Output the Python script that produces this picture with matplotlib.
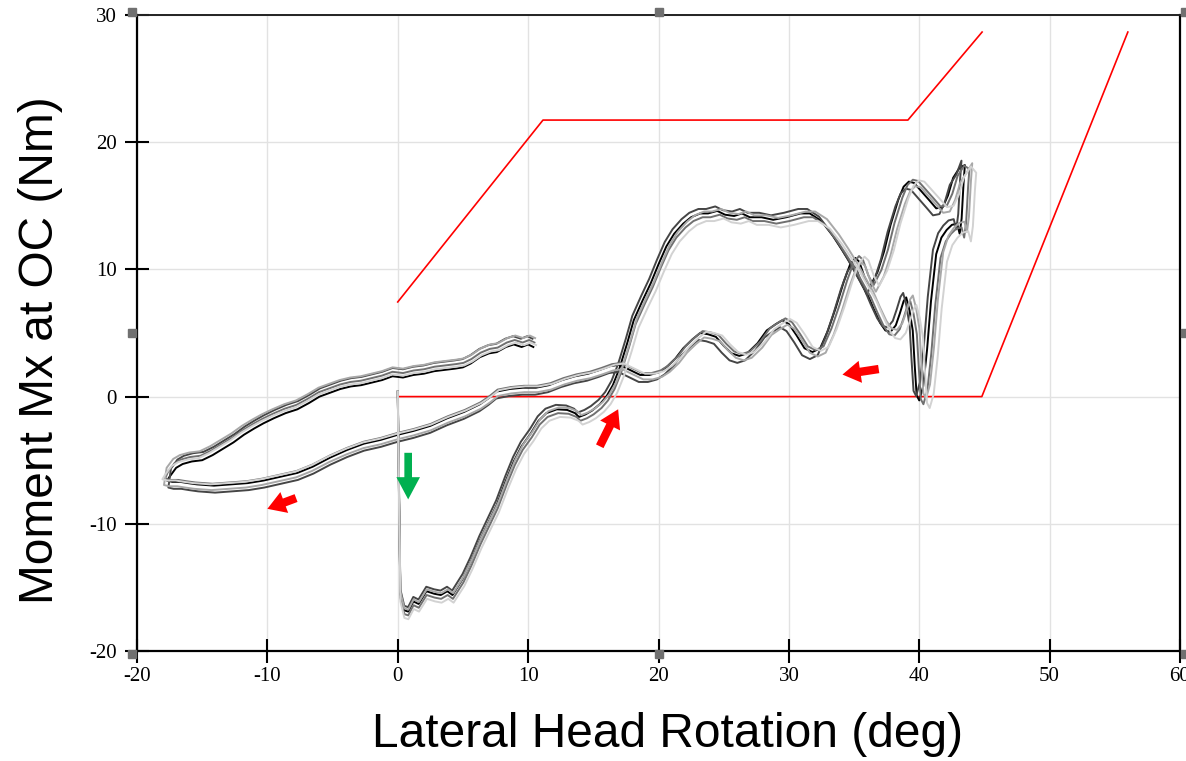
import matplotlib
matplotlib.use("Agg")
import matplotlib.pyplot as plt
from matplotlib.patches import FancyArrowPatch
import numpy as np

# ---------------- data ----------------
# base trajectory of Mx (Nm) vs lateral head rotation (deg)
load1_x = [0, 0.1, 0.2, 0.5, 0.8, 1.2, 1.6, 2.2, 2.8, 3.3, 3.8, 4.2, 5.0, 5.6, 6.3, 7.0,
           7.6, 8.3, 8.9, 9.5, 10.2, 10.8, 11.4, 12.2, 13.0, 13.6, 13.9, 14.4, 14.9, 15.5,
           16.0, 16.5, 17.0, 17.6, 18.1, 18.8, 19.4, 20.0, 20.6, 21.2, 21.9, 22.5, 23.2,
           23.8, 24.5, 25.1, 25.8, 26.4, 27.0, 27.9, 28.8, 29.8, 30.9, 31.6, 32.5, 33.4,
           34.1, 34.7, 35.4, 36.0, 36.5, 37.0, 37.4, 37.8, 38.2, 38.5, 38.8, 39.0, 39.25,
           39.5, 39.65, 39.8, 40.0, 40.3, 40.6, 40.9, 41.3, 41.7, 42.1, 42.5, 42.9, 43.1,
           43.25, 43.4, 43.5]
load1_y = [0.4, -8.0, -15.5, -16.8, -16.9, -16.1, -16.3, -15.3, -15.5, -15.6, -15.3, -15.6,
           -14.3, -13.0, -11.3, -9.8, -8.5, -6.6, -5.1, -3.9, -2.9, -1.9, -1.3, -1.0, -1.05,
           -1.3, -1.6, -1.4, -1.1, -0.6, 0.0, 0.9, 2.2, 4.2, 6.0, 7.6, 8.9, 10.4, 11.8,
           12.8, 13.6, 14.1, 14.4, 14.4, 14.6, 14.3, 14.2, 14.4, 14.1, 14.1, 13.9, 14.1,
           14.4, 14.4, 13.8, 12.6, 11.5, 10.5, 9.2, 8.1, 6.9, 5.8, 5.2, 5.1, 5.6, 6.5, 7.5,
           7.8, 6.8, 5.2, 2.5, 0.1, -0.3, 0.8, 3.7, 7.5, 11.2, 12.5, 13.1, 13.5, 13.6, 12.8,
           14.0, 16.8, 18.2]

unload_x = [43.1, 42.6, 42.2, 41.8, 41.3, 40.8, 40.2, 39.6, 39.2, 38.8, 38.4, 37.8, 37.3,
            36.8, 36.2, 35.8, 35.4, 35.1, 34.7, 34.2, 33.6, 33.0, 32.4, 31.8, 31.2, 30.6,
            30.0, 29.5, 29.0, 28.3, 27.6, 26.8, 26.2, 25.6, 25.0, 24.4, 23.8, 23.2, 22.6,
            21.9, 21.3, 20.6, 20.0, 19.3, 18.6, 17.8, 17.0, 16.3, 15.5, 14.6, 13.6, 12.6,
            11.6, 10.6, 9.6, 8.6, 7.6, 7.0, 6.3, 5.1, 3.8, 2.5, 1.2, 0.0, -1.3, -2.6, -3.9,
            -5.2, -6.5, -7.7, -9.0, -10.3, -11.5, -12.8, -14.1, -15.4, -16.1, -16.7, -17.3,
            -17.7]
unload_y = [17.8, 17.0, 15.6, 14.7, 14.6, 15.2, 15.9, 16.6, 16.7, 16.3, 15.3, 13.3, 11.2,
            9.6, 8.4, 9.2, 10.4, 10.7, 10.2, 8.8, 6.8, 5.0, 3.6, 3.3, 3.6, 4.6, 5.5, 5.8,
            5.5, 5.0, 4.0, 3.2, 3.0, 3.2, 3.8, 4.5, 4.7, 4.8, 4.3, 3.6, 2.8, 2.1, 1.7, 1.5,
            1.5, 1.9, 2.3, 2.2, 1.9, 1.6, 1.4, 1.1, 0.7, 0.5, 0.5, 0.4, 0.2, -0.3, -0.8,
            -1.4, -1.9, -2.5, -2.9, -3.2, -3.6, -3.9, -4.4, -5.0, -5.7, -6.2, -6.5, -6.8,
            -7.0, -7.1, -7.2, -7.1, -7.0, -6.9, -6.9, -6.8]

load2_x = [-17.5, -17.0, -16.5, -15.8, -15.0, -14.2, -13.4, -12.6, -11.8, -11.0, -10.3,
           -9.5, -8.6, -7.7, -6.8, -6.0, -5.2, -4.4, -3.6, -2.8, -2.0, -1.2, -0.4, 0.4,
           1.2, 2.0, 2.8, 3.6, 4.4, 5.0, 5.6, 6.3, 7.0, 7.6, 8.3, 8.9, 9.5, 10.0, 10.4]
load2_y = [-6.0, -5.3, -5.0, -4.8, -4.7, -4.3, -3.8, -3.3, -2.7, -2.2, -1.8, -1.4, -1.0,
           -0.7, -0.2, 0.3, 0.6, 0.9, 1.1, 1.2, 1.4, 1.6, 1.9, 1.8, 2.0, 2.1, 2.3, 2.4,
           2.5, 2.6, 2.9, 3.4, 3.7, 3.8, 4.2, 4.4, 4.2, 4.4, 4.2]

# trial-to-trial differences read from the bundle spread
trial_colors = ["#000000", "#454545", "#707070", "#a8a8a8", "#d2d2d2"]
trial_xscale = [1.000, 0.994, 1.008, 1.013, 1.020]
shift_load1 = [0.0, 0.35, -0.3, 0.15, -0.6]
shift_unload = [0.2, -0.35, 0.35, -0.15, 0.3]
shift_load2 = [-0.3, 0.35, 0.05, 0.4, -0.15]

# red reference profile lines
ref1_x = [0.0, 11.14, 39.13, 44.82]
ref1_y = [7.44, 21.74, 21.74, 28.66]
ref2_x = [0.0, 44.8, 56.0]
ref2_y = [0.0, 0.0, 28.66]

# arrows: (tail_x, tail_y, tip_x, tip_y)
red_arrows = [(-7.6, -7.9, -10.2, -8.9),
              (15.4, -4.1, 17.0, -0.8),
              (37.1, 2.2, 33.9, 1.7)]
green_arrow = (0.8, -4.2, 0.8, -8.3)

x_ticks = [-20, -10, 0, 10, 20, 30, 40, 50, 60]
y_ticks = [-20, -10, 0, 10, 20, 30]

# ---------------- figure ----------------
fig = plt.figure(figsize=(11.86, 7.61), dpi=100)
ax = fig.add_axes([137 / 1186, 1 - 651 / 761, (1180 - 137) / 1186, (651 - 15) / 761])
ax.set_xlim(-20, 60)
ax.set_ylim(-20, 30)

ax.grid(True, color="#e2e2e2", linewidth=1.0, zorder=0)
ax.set_axisbelow(True)

ax.plot(ref1_x, ref1_y, color="#ff0000", lw=1.2, zorder=2)
ax.plot(ref2_x, ref2_y, color="#ff0000", lw=1.2, zorder=2)

n1, n2, n3 = len(load1_x), len(unload_x), len(load2_x)
base_x = np.array(load1_x + unload_x + load2_x)
base_y = np.array(load1_y + unload_y + load2_y)
for i, (c, s) in enumerate(zip(trial_colors, trial_xscale)):
    shifts = np.array([shift_load1[i]] * n1 + [shift_unload[i]] * n2 + [shift_load2[i]] * n3)
    shifts[0] = 0.0
    ax.plot(base_x * s, base_y + shifts, color=c, lw=1.4, zorder=3,
            solid_joinstyle="round")

for tx, ty, hx, hy in red_arrows:
    ax.add_patch(FancyArrowPatch((tx, ty), (hx, hy),
                                 arrowstyle="simple,head_length=13,head_width=16,tail_width=6",
                                 mutation_scale=1, color="#ff0000", lw=0, zorder=5))
tx, ty, hx, hy = green_arrow
ax.add_patch(FancyArrowPatch((tx, ty), (hx, hy),
                             arrowstyle="simple,head_length=16,head_width=17,tail_width=5.5",
                             mutation_scale=1, color="#00b050", lw=0, zorder=5))

ax.set_xticks(x_ticks)
ax.set_yticks(y_ticks)
ax.set_xticklabels([str(v) for v in x_ticks], fontfamily="Liberation Serif", fontsize=15)
ax.set_yticklabels([str(v) for v in y_ticks], fontfamily="Liberation Serif", fontsize=15)
ax.tick_params(axis="both", direction="inout", length=17, width=1.5, color="black",
               top=False, right=False)
ax.tick_params(axis="x", pad=3)
ax.tick_params(axis="y", pad=6)

for side in ["left", "bottom", "right"]:
    ax.spines[side].set_linewidth(1.6)
    ax.spines[side].set_color("black")
ax.spines["top"].set_linewidth(1.4)
ax.spines["top"].set_color("#222222")

ax.set_xlabel("Lateral Head Rotation (deg)", fontfamily="Liberation Sans", fontsize=34.5)
ax.set_ylabel("Moment Mx at OC (Nm)", fontfamily="Liberation Sans", fontsize=34.5)
ax.xaxis.set_label_coords(0.509, -0.096)
ax.yaxis.set_label_coords(-0.071, 0.473)

# selection handles around the frame
hx_ = 5 / 1043
hy_ = 3 / 636
handles = [(0 - hx_, 1 + hy_), (0.5, 1 + hy_), (1 + hx_, 1 + hy_),
           (0 - hx_, 0.5), (1 + hx_, 0.5),
           (0 - hx_, 0 - hy_), (0.5, 0 - hy_), (1 + hx_, 0 - hy_)]
for px, py in handles:
    ax.plot([px], [py], marker="s", markersize=5.5, color="#707070",
            transform=ax.transAxes, clip_on=False, zorder=10)

fig.savefig("out.png", dpi=100)
